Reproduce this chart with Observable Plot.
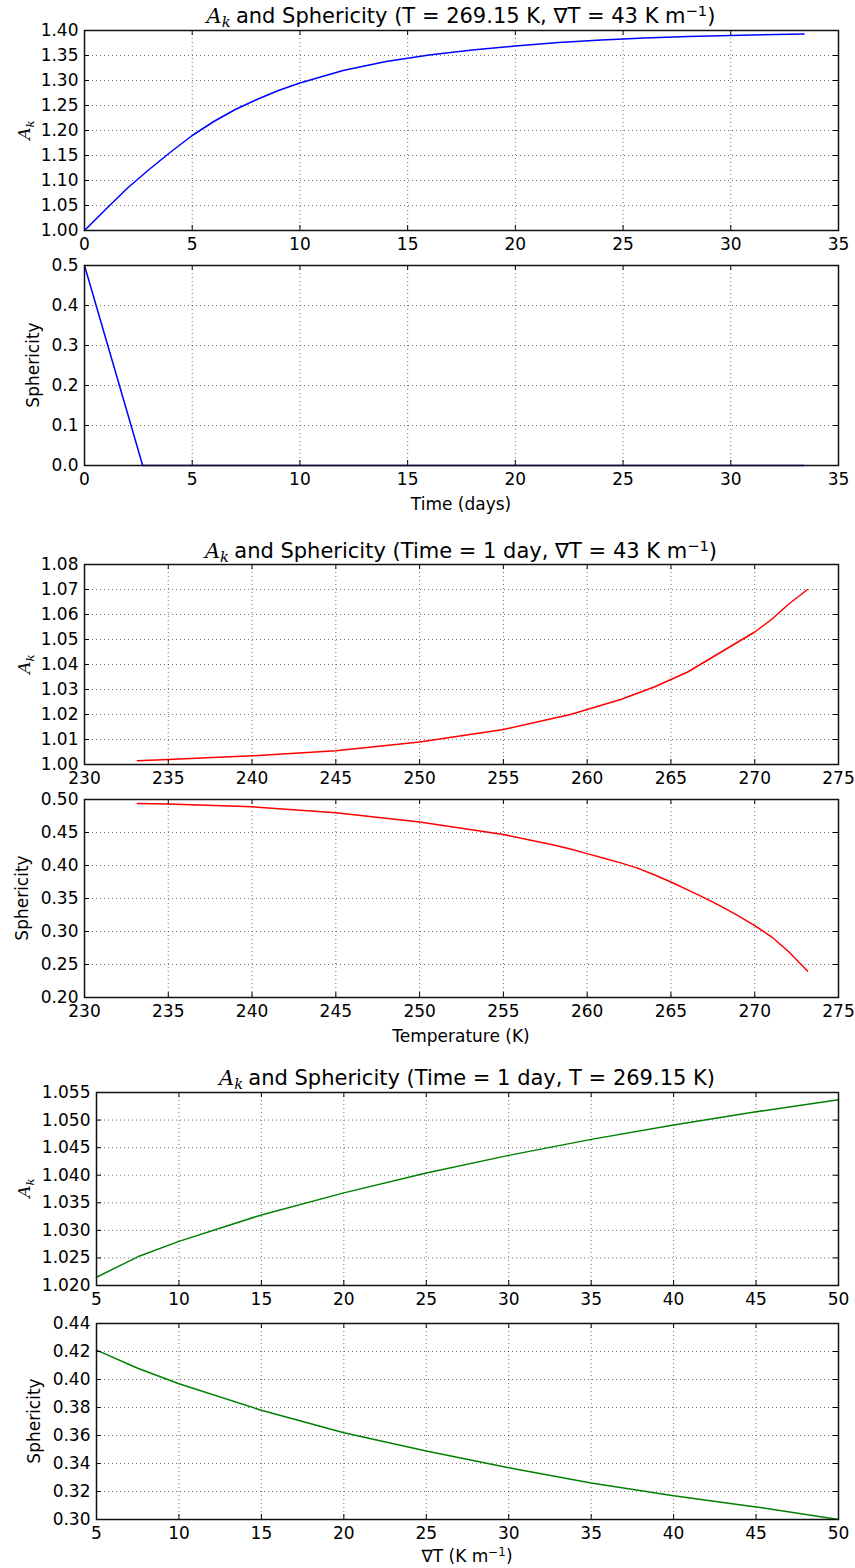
<!DOCTYPE html>
<html><head><meta charset="utf-8">
<script src="https://cdn.jsdelivr.net/npm/d3@7"></script>
<script src="https://cdn.jsdelivr.net/npm/@observablehq/plot@0.6"></script>
<style>
body{margin:0;background:#fff;}
#root{position:relative;width:855px;height:1568px;font-family:"DejaVu Sans",sans-serif;color:#000;overflow:hidden;}
.panel{position:absolute;left:0;}
.title{position:absolute;left:84px;width:754px;text-align:center;font-size:21px;line-height:22px;white-space:nowrap;}
.ylab{position:absolute;transform:translate(-50%,-50%) rotate(-90deg);font-size:17px;line-height:20px;white-space:nowrap;}
.xlab{position:absolute;left:84px;width:754px;text-align:center;font-size:17px;line-height:20px;white-space:nowrap;}
.math{font-family:"DejaVu Serif",serif;font-style:italic;}
.title .math{margin-right:0.25em;}
sub{font-size:0.7em;vertical-align:-0.3em;line-height:0;}
sup{font-size:0.7em;vertical-align:0.5em;line-height:0;}
</style></head>
<body><div id="root"></div>
<script>
// ---- data ----
const timeDays   = [0, 1, 2, 3, 4, 5, 6, 7, 8, 9, 10, 12, 14, 16, 18, 20, 22, 24, 26, 28, 30, 33.4];
const akByTime   = [1.000, 1.043, 1.085, 1.122, 1.157, 1.190, 1.218, 1.242, 1.262, 1.280, 1.295, 1.320, 1.338, 1.351, 1.361, 1.369, 1.376, 1.381, 1.385, 1.388, 1.390, 1.393];
const sphTimeDays = [0, 1, 2, 2.7, 10, 20, 33.4];
const sphByTime  = [0.5, 0.315, 0.13, 0.0, 0.0, 0.0, 0.0];

const tempK      = [233.15, 235, 240, 245, 250, 255, 258, 259, 260, 261, 262, 263, 264, 265, 266, 267, 268, 269, 270, 271, 272, 273.15];
const akByTemp   = [1.0015, 1.002, 1.0035, 1.0055, 1.009, 1.014, 1.0185, 1.020, 1.022, 1.024, 1.026, 1.0285, 1.031, 1.034, 1.037, 1.041, 1.045, 1.049, 1.053, 1.058, 1.064, 1.070];
const sphByTemp  = [0.494, 0.493, 0.489, 0.480, 0.466, 0.447, 0.431, 0.425, 0.418, 0.411, 0.404, 0.396, 0.386, 0.375, 0.363, 0.351, 0.338, 0.324, 0.309, 0.292, 0.270, 0.240];

const gradT      = [5, 7.5, 10, 15, 20, 25, 30, 35, 40, 45, 50];
const akByGrad   = [1.0215, 1.0252, 1.0280, 1.0328, 1.0368, 1.0404, 1.0436, 1.0465, 1.0491, 1.0515, 1.0537];
const sphByGrad  = [0.421, 0.408, 0.397, 0.378, 0.362, 0.349, 0.337, 0.326, 0.317, 0.309, 0.300];

// ---- tick values ----
const timeTicks  = [0, 5, 10, 15, 20, 25, 30, 35];
const ak1Ticks   = [1.00, 1.05, 1.10, 1.15, 1.20, 1.25, 1.30, 1.35, 1.40];
const sph1Ticks  = [0.0, 0.1, 0.2, 0.3, 0.4, 0.5];
const tempTicks  = [230, 235, 240, 245, 250, 255, 260, 265, 270, 275];
const ak2Ticks   = [1.00, 1.01, 1.02, 1.03, 1.04, 1.05, 1.06, 1.07, 1.08];
const sph2Ticks  = [0.20, 0.25, 0.30, 0.35, 0.40, 0.45, 0.50];
const gradTicks  = [5, 10, 15, 20, 25, 30, 35, 40, 45, 50];
const ak3Ticks   = [1.020, 1.025, 1.030, 1.035, 1.040, 1.045, 1.050, 1.055];
const sph3Ticks  = [0.30, 0.32, 0.34, 0.36, 0.38, 0.40, 0.42, 0.44];

const root = document.getElementById("root");
const W = 855, MR = 17;

function panel({top, height, mt, mb, ml, xs, ys, xTicks, yTicks, xFmt, yFmt, color}) {
  const innerH = height - mt - mb;
  const innerW = W - ml - MR;
  const rows = xs.map((x, i) => ({x, y: ys[i]}));
  const grid = {stroke: "#000", strokeOpacity: 0.55, strokeWidth: 1, strokeDasharray: "1,3"};
  const svg = Plot.plot({
    width: W, height, marginTop: mt, marginBottom: mb, marginLeft: ml, marginRight: MR,
    style: {fontFamily: "DejaVu Sans", fontSize: "17px", color: "#000", background: "transparent", overflow: "visible"},
    x: {domain: [xTicks[0], xTicks[xTicks.length - 1]]},
    y: {domain: [yTicks[0], yTicks[yTicks.length - 1]]},
    marks: [
      Plot.gridX(xTicks, grid),
      Plot.gridY(yTicks, grid),
      Plot.line(rows, {x: "x", y: "y", stroke: color, strokeWidth: 1.5}),
      Plot.tickX(xTicks, {x: d => d, insetTop: innerH - 5, stroke: "#000"}),
      Plot.tickX(xTicks, {x: d => d, insetBottom: innerH - 5, stroke: "#000"}),
      Plot.tickY(yTicks, {y: d => d, insetRight: innerW - 5, stroke: "#000"}),
      Plot.tickY(yTicks, {y: d => d, insetLeft: innerW - 5, stroke: "#000"}),
      Plot.frame({stroke: "#111", strokeWidth: 1.5}),
      Plot.axisX(xTicks, {tickSize: 0, tickPadding: 7, tickFormat: xFmt, label: null, fontSize: 17}),
      Plot.axisY(yTicks, {tickSize: 0, tickPadding: 6, tickFormat: yFmt, label: null, fontSize: 17})
    ]
  });
  svg.classList.add("panel");
  svg.style.top = top + "px";
  root.appendChild(svg);
}

function html(cls, style, content) {
  const d = document.createElement("div");
  d.className = cls;
  Object.assign(d.style, style);
  d.innerHTML = content;
  root.appendChild(d);
}

const AK = '<span class="math">A<sub>k</sub></span>';
const INT = d3.format("d");

// Panel 1: frame 30-230
panel({top: 0, height: 255, mt: 30, mb: 25, ml: 84, xs: timeDays, ys: akByTime,
  xTicks: timeTicks, yTicks: ak1Ticks, xFmt: INT, yFmt: d3.format(".2f"), color: "#0000ff"});
// Panel 2: frame 265-465
panel({top: 255, height: 255, mt: 10, mb: 45, ml: 84, xs: sphTimeDays, ys: sphByTime,
  xTicks: timeTicks, yTicks: sph1Ticks, xFmt: INT, yFmt: d3.format(".1f"), color: "#0000ff"});
// Panel 3: frame 564-764
panel({top: 530, height: 259, mt: 34, mb: 25, ml: 84, xs: tempK, ys: akByTemp,
  xTicks: tempTicks, yTicks: ak2Ticks, xFmt: INT, yFmt: d3.format(".2f"), color: "#ff0000"});
// Panel 4: frame 799-997
panel({top: 789, height: 253, mt: 10, mb: 45, ml: 84, xs: tempK, ys: sphByTemp,
  xTicks: tempTicks, yTicks: sph2Ticks, xFmt: INT, yFmt: d3.format(".2f"), color: "#ff0000"});
// Panel 5: frame 1092-1285
panel({top: 1060, height: 250, mt: 32, mb: 25, ml: 96, xs: gradT, ys: akByGrad,
  xTicks: gradTicks, yTicks: ak3Ticks, xFmt: INT, yFmt: d3.format(".3f"), color: "#008000"});
// Panel 6: frame 1323-1519
panel({top: 1310, height: 258, mt: 13, mb: 49, ml: 96, xs: gradT, ys: sphByGrad,
  xTicks: gradTicks, yTicks: sph3Ticks, xFmt: INT, yFmt: d3.format(".2f"), color: "#008000"});

// Titles
html("title", {top: "5px"}, AK + "and Sphericity (T = 269.15 K, ∇T = 43 K m<sup>−1</sup>)");
html("title", {top: "540px"}, AK + "and Sphericity (Time = 1 day, ∇T = 43 K m<sup>−1</sup>)");
html("title", {top: "1067px", left: "96px", width: "742px"}, AK + "and Sphericity (Time = 1 day, T = 269.15 K)");

// Y labels
html("ylab", {left: "24px", top: "130px"}, AK);
html("ylab", {left: "33px", top: "365px"}, "Sphericity");
html("ylab", {left: "24px", top: "664px"}, AK);
html("ylab", {left: "22px", top: "898px"}, "Sphericity");
html("ylab", {left: "24px", top: "1188px"}, AK);
html("ylab", {left: "34px", top: "1421px"}, "Sphericity");

// X labels
html("xlab", {top: "494px"}, "Time (days)");
html("xlab", {top: "1026px"}, "Temperature (K)");
html("xlab", {top: "1546px", left: "96px", width: "742px"}, "∇T (K m<sup>−1</sup>)");
</script>
</body></html>
